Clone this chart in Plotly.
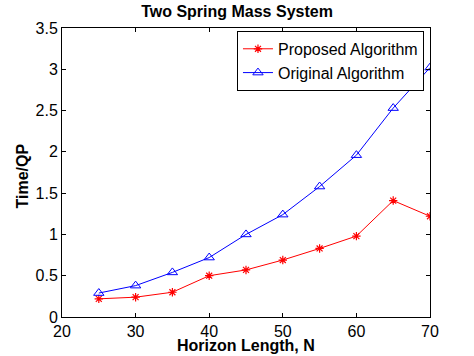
import plotly.graph_objects as go

horizon = [25, 30, 35, 40, 45, 50, 55, 60, 65, 70]
proposed = [0.22, 0.24, 0.30, 0.50, 0.57, 0.69, 0.83, 0.98, 1.41, 1.22]
original = [0.29, 0.38, 0.54, 0.72, 1.00, 1.24, 1.58, 1.96, 2.53, 3.02]
x_ticks = [20, 30, 40, 50, 60, 70]
y_ticks = [0, 0.5, 1, 1.5, 2, 2.5, 3, 3.5]
y_tick_text = ["0", "0.5", "1", "1.5", "2", "2.5", "3", "3.5"]

font = "Liberation Sans, Arial, Helvetica, sans-serif"

fig = go.Figure()
fig.add_trace(go.Scatter(
    x=horizon, y=proposed, mode="lines+markers", name="Proposed Algorithm",
    line=dict(color="#ff0000", width=1),
    marker=dict(symbol="asterisk-open", size=7, color="#ff0000", line=dict(color="#ff0000", width=1.2)),
))
fig.add_trace(go.Scatter(
    x=horizon, y=original, mode="lines+markers", name="Original Algorithm",
    line=dict(color="#0000ff", width=1),
    marker=dict(symbol="triangle-up-open", size=9, color="#0000ff", line=dict(color="#0000ff", width=1)),
))

axis_common = dict(
    showline=True, linecolor="black", linewidth=1, mirror="ticks",
    ticks="inside", ticklen=4, tickcolor="black", showgrid=False, zeroline=False,
    tickfont=dict(family=font, size=16, color="black"), automargin=False,
)

fig.update_layout(
    width=474, height=356,
    margin=dict(l=62, r=44, t=28, b=39),
    paper_bgcolor="white", plot_bgcolor="white",
    title=dict(text="<b>Two Spring Mass System</b>", x=0.5, xanchor="center", y=0.968, yanchor="middle",
               font=dict(family=font, size=16, color="black")),
    xaxis=dict(range=[20, 70], tickvals=x_ticks, **axis_common),
    yaxis=dict(range=[0, 3.5], tickvals=y_ticks, ticktext=y_tick_text, **axis_common),
    legend=dict(x=0.4755, y=0.99, xanchor="left", yanchor="top",
                bgcolor="white", bordercolor="black", borderwidth=1,
                font=dict(family=font, size=16, color="black"),
                tracegroupgap=0, itemwidth=30),
    showlegend=True,
    annotations=[
        dict(text="<b>Horizon Length, N</b>", xref="paper", yref="paper", x=0.5, y=-0.0, yshift=-28,
             xanchor="center", yanchor="middle", showarrow=False,
             font=dict(family=font, size=16, color="black")),
        dict(text="<b>Time/QP</b>", xref="paper", yref="paper", x=0.0, xshift=-40, y=0.5, yshift=-4,
             xanchor="center", yanchor="middle", textangle=-90, showarrow=False,
             font=dict(family=font, size=16, color="black")),
    ],
)

fig.write_html("out.html", config={"displayModeBar": False},
               post_script="document.body.style.margin='0';document.body.style.overflow='hidden';")
